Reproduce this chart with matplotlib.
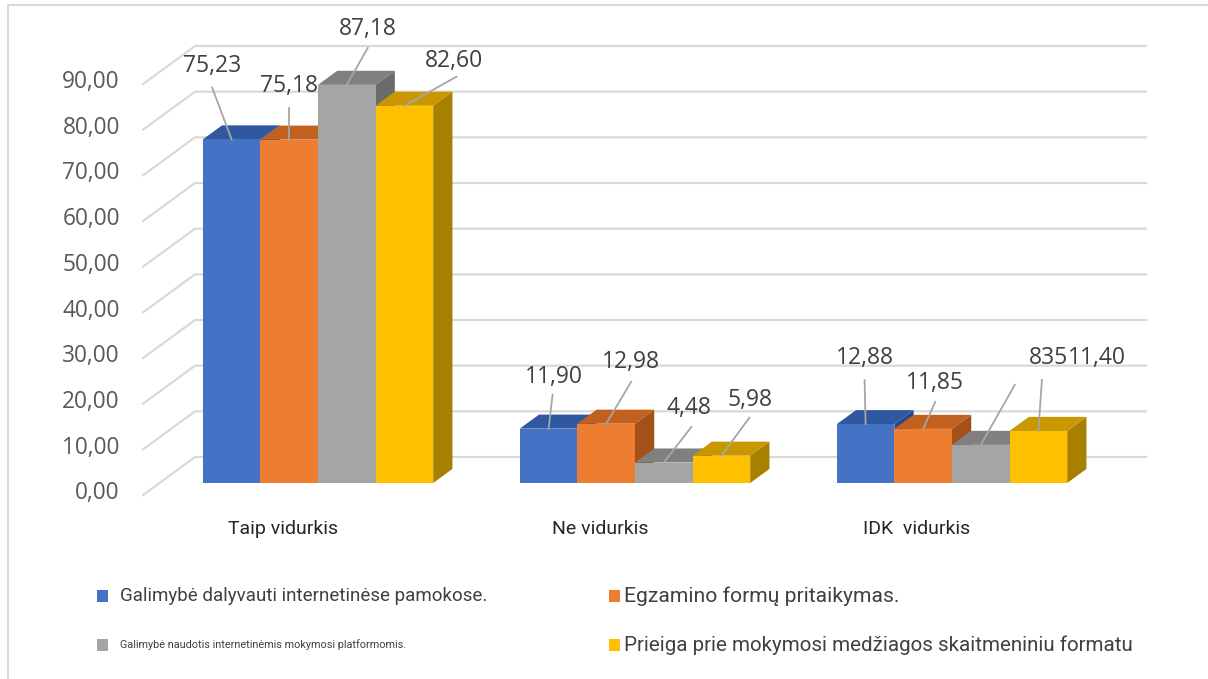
import matplotlib
matplotlib.use("Agg")
import matplotlib.pyplot as plt
from matplotlib.patches import Polygon, Rectangle
from matplotlib.lines import Line2D
import numpy as np

# ---- data ----
categories = ["Taip vidurkis", "Ne vidurkis", "IDK  vidurkis"]
series_names = [
    "Galimybė dalyvauti internetinėse pamokose.",
    "Egzamino formų pritaikymas.",
    "Galimybė naudotis internetinėmis mokymosi platformomis.",
    "Prieiga prie mokymosi medžiagos skaitmeniniu formatu",
]
online_lessons = [75.23, 11.90, 12.88]
exam_forms = [75.18, 12.98, 11.85]
platforms = [87.18, 4.48, 8.35]
digital_materials = [82.60, 5.98, 11.40]
series_values = [online_lessons, exam_forms, platforms, digital_materials]
y_ticks = list(range(0, 91, 10))


def fmt(v):
    return f"{v:.2f}".replace(".", ",")


# label texts (the platform/IDK label is printed without its comma)
label_texts = [[fmt(v) for v in s] for s in series_values]
label_texts[2][2] = "835"

# ---- styles ----
front_cols = ["#4472C4", "#ED7D31", "#A5A5A5", "#FFC000"]
top_cols = ["#2F58A0", "#C2601E", "#808080", "#C99800"]
side_cols = ["#27498A", "#A4501A", "#6B6B6B", "#A88000"]
grid_col = "#D9D9D9"
leader_col = "#A6A6A6"

W, H, DPI = 1208, 679, 100
fig = plt.figure(figsize=(W / DPI, H / DPI), dpi=DPI)
fig.patch.set_facecolor("white")

# pixel scales of the plot
PX_X = 317.0      # pixels per category
PX_V = 4.567      # pixels per value unit
X0_PX = 318.0     # pixel x of first category centre
V0_PX = 483.0     # pixel y (from top) of value 0 on the bar front plane

ax = fig.add_axes([0, 0, 1, 1])
ax.set_xlim(-X0_PX / PX_X, (W - X0_PX) / PX_X)
ax.set_ylim((V0_PX - H) / PX_V, V0_PX / PX_V)
ax.axis("off")

# depth direction (one unit = whole floor depth)
DX = 52.0 / PX_X
DV = 38.0 / PX_V
D_FRONT = -0.316
D_BAR = 0.37
D_WALL = 0.684
X_LEFT, X_RIGHT = -0.5, 2.5

bw = 57.6 / PX_X


def proj(x, v, d):
    return (x + d * DX, v + d * DV)


# walls: gridlines on back wall and left side wall
for t in y_ticks:
    a = proj(X_LEFT, t, D_FRONT)
    b = proj(X_LEFT, t, D_WALL)
    c = proj(X_RIGHT, t, D_WALL)
    ax.plot([a[0], b[0], c[0]], [a[1], b[1], c[1]], color=grid_col, lw=1.6,
            solid_joinstyle="miter", zorder=1)
    ax.text(-0.625, t + D_FRONT * DV + 0.4, fmt(t), ha="right", va="center",
            fontsize=16.3, color="#595959", family="Open Sans", zorder=5)

# bars, drawn left to right so neighbours overlap correctly
x_idx = np.arange(len(categories))
z = 2
for i in x_idx:
    for k, vals in enumerate(series_values):
        v = vals[i]
        xl = i - 2 * bw + k * bw
        xr = xl + bw
        side = [proj(xr, 0, 0), proj(xr, 0, D_BAR), proj(xr, v, D_BAR), proj(xr, v, 0)]
        top = [proj(xl, v, 0), proj(xl, v, D_BAR), proj(xr, v, D_BAR), proj(xr, v, 0)]
        ax.add_patch(Polygon(side, closed=True, fc=side_cols[k], ec="none", zorder=z))
        ax.add_patch(Polygon(top, closed=True, fc=top_cols[k], ec="none", zorder=z))
        ax.add_patch(Rectangle((xl, 0), bw, v, fc=front_cols[k], ec="none", zorder=z))
        z += 0.01

# data labels with leader lines (offsets in pixels from bar front-top centre)
leader_end = [
    [(-19.5, -52), (4, -34), (-1, -44)],
    [(0, -32), (25, -42), (12, -27)],
    [(21, -37), (27.5, -35.5), (34, -60)],
    [(52, -29), (28, -38), (3.5, -51)],
]
label_pos = [
    [(-19.5, -73, "center"), (5, -52, "center"), (-1, -66, "center")],
    [(0, -54, "center"), (25, -62, "center"), (12, -46, "center")],
    [(21, -56, "center"), (25.5, -54.5, "center"), (87, -87, "right")],
    [(50, -45, "center"), (29, -56, "center"), (29.5, -73, "left")],
]
for k, vals in enumerate(series_values):
    for i in x_idx:
        v = vals[i]
        xc = i - 2 * bw + (k + 0.5) * bw
        ex, ey = leader_end[k][i]
        ax.plot([xc, xc + ex / PX_X], [v, v - ey / PX_V], color=leader_col,
                lw=1.3, zorder=10)
        lx, ly, ha = label_pos[k][i]
        ax.text(xc + lx / PX_X, v - ly / PX_V, label_texts[k][i], ha=ha,
                va="center", fontsize=16.5, color="#404040", family="Open Sans",
                zorder=11)

# category labels
for i, name in enumerate(categories):
    ax.text(i - 35 / PX_X, (V0_PX - 529) / PX_V, name, ha="center", va="center",
            fontsize=14, color="#262626", family="Roboto", zorder=5)

# legend: (square x, row y, series, text gap, font size)
leg_items = [
    (97, 596, 0, 23, 13.5),
    (609, 596, 1, 15, 15.2),
    (97, 645, 2, 23, 7.8),
    (609, 645, 3, 15, 14.8),
]
for px, py, k, gap, fs in leg_items:
    fig.add_artist(Rectangle((px / W, 1 - (py + 6) / H), 11 / W, 12 / H,
                             transform=fig.transFigure, fc=front_cols[k], ec="none"))
    fig.text((px + gap) / W, 1 - py / H, series_names[k], ha="left", va="center",
             fontsize=fs, color="#404040", family="Roboto")

# frame
fig.add_artist(Line2D([8 / W, 8 / W, 1], [0, 1 - 5 / H, 1 - 5 / H],
                      transform=fig.transFigure, color="#D9D9D9", lw=1.5))

fig.savefig("out.png", dpi=DPI, facecolor="white")
